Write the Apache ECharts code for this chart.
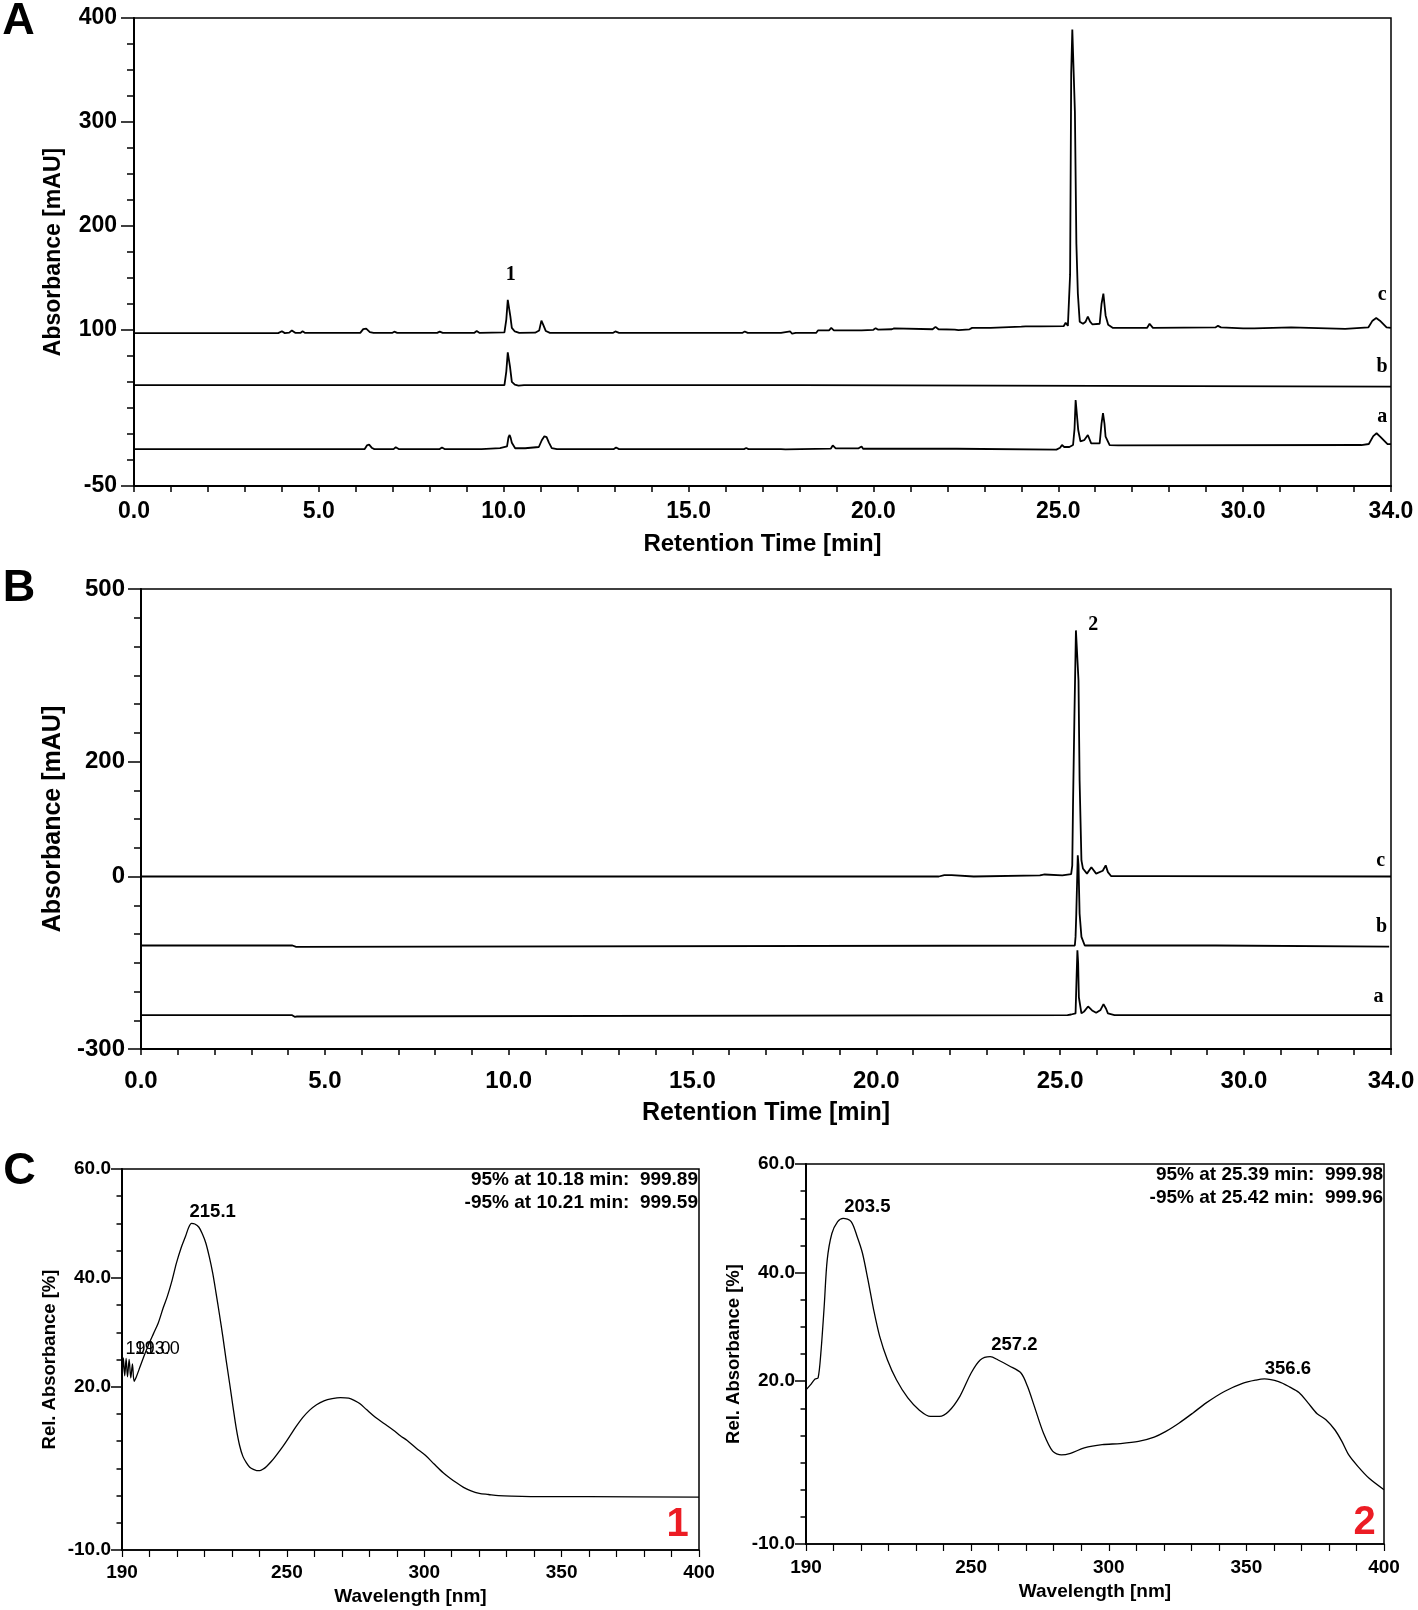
<!DOCTYPE html>
<html>
<head>
<meta charset="utf-8">
<script src="https://cdn.jsdelivr.net/npm/echarts@6/dist/echarts.min.js"></script>
<style>
html,body{margin:0;padding:0;background:#fff;}
#chart{width:1418px;height:1610px;}
</style>
</head>
<body>
<div id="chart"></div>
<script>
// ---------------- DATA ----------------
// Panel A chromatograms: [retention time (min), absorbance (mAU)]
const traceA_c = [[0,97],[3.9,97],[4.0,98.8],[4.08,97],[4.2,97.5],[4.27,99.6],[4.36,97.3],[4.5,97.2],[4.56,98.7],[4.63,97.2],[6.12,97.2],[6.2,100.8],[6.28,101.3],[6.38,98],[6.48,97.2],[6.98,97.2],[7.04,98.4],[7.12,97.2],[8.2,97.2],[8.27,98.4],[8.35,97.2],[9.2,97.2],[9.27,99],[9.35,97.2],[10.02,97.8],[10.07,110],[10.11,129],[10.15,130],[10.18,113],[10.22,102],[10.3,98.6],[10.42,97.2],[10.85,97.4],[10.96,99.6],[11.02,109],[11.07,105],[11.14,99],[11.25,97.2],[12.95,97.2],[13.02,98.6],[13.12,97.2],[14.82,97.2],[14.87,98.4],[14.93,97.2],[15.12,97.2],[15.17,98.4],[15.23,97.2],[16.45,97.2],[16.52,98.6],[16.6,97.2],[17.5,97.2],[17.55,98.6],[17.75,98.6],[17.8,96.4],[17.9,97.2],[18.45,97.2],[18.5,99.6],[18.8,99.6],[18.86,102],[18.93,99.6],[19.55,99.6],[19.6,101.4],[19.68,99.6],[20.0,100.2],[20.06,101.8],[20.12,100.4],[20.5,100.7],[20.56,101.6],[21.6,100.7],[21.68,103],[21.76,100.7],[22.2,100.4],[22.3,99.8],[22.6,100.7],[22.67,102],[23.17,102],[23.22,103.2],[24.0,103.2],[24.05,104.8],[24.12,103.5],[24.4,103.5],[24.45,105],[24.52,103.5],[25.15,103.8],[25.2,107],[25.26,104],[25.3,104],[25.32,153],[25.35,347],[25.38,389],[25.43,389],[25.45,310],[25.49,183],[25.53,135],[25.58,108],[25.67,106],[25.74,108],[25.8,113],[25.86,108],[25.92,105.5],[26.12,106],[26.17,125],[26.22,135],[26.28,114],[26.35,105],[26.48,102],[27.4,102],[27.47,106],[27.56,102],[29.25,102.5],[29.32,104],[29.4,102.5],[30.0,101.6],[30.3,101.6],[30.35,102.5],[31.3,102.5],[31.35,101],[32.76,101],[32.8,102.6],[33.39,102.6],[33.5,109],[33.6,111.5],[33.7,109],[33.88,102.6],[34,102]];
const traceA_b = [[0,47],[10.02,47],[10.07,60],[10.11,78.5],[10.14,77],[10.17,64.7],[10.22,50.2],[10.3,47.5],[10.4,46.5],[10.55,47],[18.03,47],[18.05,45.5],[34,45.5]];
const traceA_a = [[0,-14.5],[6.24,-14.5],[6.3,-11],[6.36,-10.2],[6.44,-13.5],[6.5,-14.5],[7.02,-14.5],[7.08,-12.8],[7.16,-14.5],[8.27,-14.5],[8.33,-13],[8.4,-14.5],[9.28,-14.5],[9.33,-13],[9.4,-14.5],[9.9,-13.5],[10.09,-12],[10.13,-3],[10.16,-1],[10.19,-4],[10.22,-8.4],[10.31,-13.7],[10.58,-13.7],[10.95,-12.5],[11.03,-6],[11.1,-2.2],[11.16,-3],[11.22,-8],[11.3,-13.5],[11.44,-14.5],[12.98,-14.5],[13.04,-13],[13.12,-14.5],[14.85,-14.5],[14.9,-13.6],[14.96,-14.5],[15.1,-14.5],[15.15,-13.6],[15.2,-14.5],[16.5,-14.5],[16.56,-13.5],[16.62,-14.5],[17.5,-14.5],[17.55,-13.8],[17.62,-14.8],[18.85,-14],[18.9,-11],[18.98,-13.8],[19.6,-13.8],[19.64,-12],[19.68,-12],[19.72,-14.2],[22.25,-14.2],[22.28,-15],[24.95,-15],[25.0,-14],[25.05,-13.2],[25.1,-10.6],[25.16,-12.5],[25.3,-12.5],[25.4,-10.6],[25.44,5],[25.47,32.7],[25.5,32.7],[25.54,3.8],[25.6,-7],[25.7,-6],[25.8,-1],[25.89,-9],[26.12,-9],[26.17,10],[26.21,20],[26.25,10],[26.28,-2.6],[26.39,-10.6],[26.62,-11],[26.65,-10.6],[33.2,-10.6],[33.4,-9.6],[33.52,-2],[33.61,0.7],[33.72,-3],[33.9,-9.6],[34,-9.8]];

// Panel B chromatograms
const traceB_c = [[0,0],[3.98,0],[4.02,1.2],[4.06,0],[5.55,0],[5.6,1.5],[5.65,0],[21.7,0],[21.75,2.5],[21.85,2.5],[21.88,0.5],[21.93,2.5],[22.05,2.5],[22.1,0],[22.65,0],[22.68,1.9],[24.45,1.9],[24.5,3.5],[24.58,3.5],[24.62,1.9],[25.06,1.9],[25.08,4],[25.3,4],[25.33,19],[25.35,120],[25.39,283],[25.43,428],[25.47,428],[25.5,341],[25.53,167],[25.58,28],[25.62,14],[25.73,5],[25.85,16],[25.98,5],[26.16,10],[26.24,19.3],[26.3,7.6],[26.39,0.5],[27.35,0.5],[27.4,-1.5],[27.45,0.8],[27.65,0.8],[27.7,0],[34,0]];
const traceB_b = [[0,-120],[4.12,-120],[4.16,-122.5],[4.22,-122.5],[4.26,-120],[25.4,-120],[25.42,-105],[25.44,-64.7],[25.48,36.7],[25.5,20],[25.53,-64.7],[25.58,-105],[25.67,-120],[29.23,-120],[29.27,-122],[33.95,-122]];
const traceB_a = [[0,-241],[4.1,-241],[4.14,-239.5],[4.18,-244],[4.24,-243.5],[4.28,-241],[25.2,-241],[25.3,-240],[25.42,-238],[25.45,-170],[25.47,-128.5],[25.49,-150],[25.51,-210],[25.58,-238],[25.65,-235],[25.76,-226],[25.87,-233],[25.98,-237],[26.1,-232],[26.18,-222],[26.25,-230],[26.3,-238],[26.48,-241],[29.4,-241],[29.45,-238.5],[29.5,-241],[34,-241]];

// Panel C UV spectra: [wavelength (nm), relative absorbance (%)]
const spectrum1 = [[190,20.6],[190.5,25.3],[191.0,22.0],[191.5,25.2],[192.0,21.8],[192.6,25.0],[193.2,21.6],[193.8,24.2],[194.4,21.0],[195.2,21.8],[196.6,23.7],[198.3,26],[199.9,28],[201.5,29.8],[203.2,31.7],[205,34.5],[206.5,36.6],[208.2,39.5],[209.8,42.7],[211.5,45.5],[213.1,47.6],[214.3,49.3],[215.3,50],[216.5,49.9],[218,49.3],[219.3,48],[220.5,46.4],[221.8,43.8],[223,40.9],[224.2,37.3],[225.4,33.5],[226.7,29.2],[227.9,24.9],[229.2,20.5],[230.4,16.3],[231.6,12.3],[232.8,9.2],[234,7.2],[235.3,6.0],[236.5,5.2],[237.8,4.8],[239,4.6],[240.2,4.6],[241.5,4.9],[242.7,5.4],[244.4,6.3],[246,7.3],[248.5,9.0],[250.9,10.8],[253.4,12.7],[255.9,14.4],[258.3,15.7],[260.8,16.7],[263.5,17.4],[266.5,17.8],[269.5,18.0],[272.5,17.9],[274.5,17.5],[276.5,16.9],[279,15.8],[282.2,14.4],[285.5,13.2],[288.8,12],[291.3,11],[293.8,10.1],[297.1,8.7],[300.4,7.4],[303.6,5.8],[306.9,4.2],[309.4,3.2],[311.9,2.3],[314.3,1.5],[316.8,0.9],[320,0.4],[323.4,0.2],[327,0],[331.7,-0.1],[343.2,-0.2],[359.7,-0.2],[400,-0.3]];
const spectrum2 = [[190,18.4],[191.6,19.3],[193.3,20.4],[194.4,20.6],[195.4,25.2],[196.6,33.7],[197.7,42.3],[199.4,47.2],[201.5,49.4],[203.5,50],[206.4,49.4],[208.6,46.6],[210.5,43.6],[212.5,38.7],[214.6,33.1],[216.8,28.2],[219.6,23.9],[222.9,20.2],[227,16.9],[231.1,14.7],[235.2,13.5],[238.5,13.5],[241.8,14.4],[245.9,17.2],[250,21.5],[253.3,23.9],[256.9,24.5],[259.8,23.9],[263.9,22.8],[268.1,21.5],[270.5,19],[273,15.3],[276.3,10.4],[279.6,7.1],[282.8,6.4],[286.1,6.7],[291.1,7.7],[297.6,8.3],[304.2,8.5],[310.8,8.9],[316.5,9.7],[320.6,10.7],[325.6,12.3],[330.5,14.1],[335.4,16],[342,18.1],[348.6,19.6],[353.5,20.2],[356.6,20.4],[361.7,19.9],[365.8,18.9],[369.1,17.9],[372.4,16],[375.7,14],[378.9,12.9],[382.2,11],[384.7,8.9],[387.2,6.4],[390.5,4.3],[394.6,2.1],[400,0]];

// Tick labels
const timeLabels = [0, 5, 10, 15, 20, 25, 30, 34];
const yLabelsA = [400, 300, 200, 100, -50];
const yLabelsB = [500, 200, 0, -300];
const yLabelsC = [60, 40, 20, -10];
const xLabelsC = [190, 250, 300, 350, 400];

// Text annotations
const traceNames = ['c', 'b', 'a'];
const peakLabelA = {text: '1', at: [10.19, 153]};
const peakLabelB = {text: '2', at: [25.9, 437]};
const traceLabelPosA = [[33.76, 134], [33.76, 65], [33.76, 16.4]];
const traceLabelPosB = [[33.72, 27], [33.74, -87], [33.66, -210]];
const spec1Peaks = [{text: '215.1', at: [223, 52.2]}];
const spec2Peaks = [{text: '203.5', at: [212.3, 52.1]}, {text: '257.2', at: [265.7, 26.7]}, {text: '356.6', at: [365.1, 22.2]}];
const spec1Noise = [{text: '191.0', at: [191.3, 27.0]}, {text: '193.0', at: [194.6, 27.0]}];
const spec1Purity = ['95% at 10.18 min:  999.89', '-95% at 10.21 min:  999.59'];
const spec2Purity = ['95% at 25.39 min:  999.98', '-95% at 25.42 min:  999.96'];
const compoundIds = ['1', '2'];

// ---------------- STYLE ----------------
const SANS = "'Liberation Sans', Arial, Helvetica, sans-serif";
const SERIF = "'Liberation Serif', 'Times New Roman', serif";
const BLACK = '#000';

function timeAxis(gridIndex, fontSize, margin, nameGap) {
  return {
    gridIndex, type: 'value', min: 0, max: 34, interval: 1,
    name: 'Retention Time [min]', nameLocation: 'middle', nameGap,
    nameTextStyle: {fontFamily: SANS, fontWeight: 'bold', fontSize: fontSize + 1, color: BLACK},
    axisLine: {show: true, onZero: false, lineStyle: {color: BLACK, width: 2}},
    axisTick: {show: true, length: 6, lineStyle: {color: BLACK, width: 1.5}},
    axisLabel: {show: true, margin, fontFamily: SANS, fontWeight: 'bold', fontSize, color: BLACK,
      formatter: v => timeLabels.indexOf(Math.round(v * 1000) / 1000) >= 0 ? v.toFixed(1) : ''},
    splitLine: {show: false}
  };
}
function valueAxis(gridIndex, min, max, interval, labels, fmt, fontSize, margin, name, nameSize, nameGap, tickLen) {
  return {
    gridIndex, type: 'value', min, max, interval, position: 'left',
    name, nameLocation: 'middle', nameGap,
    nameTextStyle: {fontFamily: SANS, fontWeight: 'bold', fontSize: nameSize, color: BLACK},
    axisLine: {show: true, onZero: false, lineStyle: {color: BLACK, width: 2}},
    axisTick: {show: true, length: tickLen, lineStyle: {color: BLACK, width: 1.5}},
    axisLabel: {show: true, margin, fontFamily: SANS, fontWeight: 'bold', fontSize, color: BLACK,
      formatter: v => labels.indexOf(Math.round(v * 1000) / 1000) >= 0 ? fmt(v) : ''},
    splitLine: {show: false}
  };
}
function longTickAxis(gridIndex, min, max, interval, labels, len) {
  return {
    gridIndex, type: 'value', min, max, interval, position: 'left', offset: 0,
    axisLine: {show: false},
    axisTick: {show: true, length: len, customValues: labels, lineStyle: {color: BLACK, width: 1.5}},
    axisLabel: {show: false},
    splitLine: {show: false}
  };
}
function lineSeries(data, xi, yi, width, smooth) {
  return {
    type: 'line', data, xAxisIndex: xi, yAxisIndex: yi,
    showSymbol: false, symbol: 'none', smooth: smooth || false,
    lineStyle: {color: BLACK, width}, silent: true, animation: false, z: 3
  };
}

const gridBase = {show: true, borderColor: BLACK, borderWidth: 1.5, backgroundColor: 'transparent', containLabel: false, outerBoundsMode: 'none'};

const option = {
  animation: false,
  backgroundColor: '#fff',
  grid: [
    Object.assign({left: 134, top: 18, width: 1257, height: 468}, gridBase),
    Object.assign({left: 141, top: 589, width: 1250, height: 460}, gridBase),
    Object.assign({left: 122, top: 1169, width: 577, height: 381}, gridBase),
    Object.assign({left: 806, top: 1164, width: 578, height: 380}, gridBase)
  ],
  xAxis: [
    timeAxis(0, 23, 14, 46),
    timeAxis(1, 24, 20, 52),
    {
      gridIndex: 2, type: 'value', min: 190, max: 400, interval: 10,
      name: 'Wavelength [nm]', nameLocation: 'middle', nameGap: 37,
      nameTextStyle: {fontFamily: SANS, fontWeight: 'bold', fontSize: 19, color: BLACK},
      axisLine: {show: true, onZero: false, lineStyle: {color: BLACK, width: 1.5}},
      axisTick: {show: true, length: 7, lineStyle: {color: BLACK, width: 1.2}},
      axisLabel: {margin: 13, fontFamily: SANS, fontWeight: 'bold', fontSize: 19, color: BLACK,
        formatter: v => xLabelsC.indexOf(v) >= 0 ? String(v) : ''},
      splitLine: {show: false}
    },
    {
      gridIndex: 3, type: 'value', min: 190, max: 400, interval: 10,
      name: 'Wavelength [nm]', nameLocation: 'middle', nameGap: 38,
      nameTextStyle: {fontFamily: SANS, fontWeight: 'bold', fontSize: 19, color: BLACK},
      axisLine: {show: true, onZero: false, lineStyle: {color: BLACK, width: 1.5}},
      axisTick: {show: true, length: 7, lineStyle: {color: BLACK, width: 1.2}},
      axisLabel: {margin: 14, fontFamily: SANS, fontWeight: 'bold', fontSize: 19, color: BLACK,
        formatter: v => xLabelsC.indexOf(v) >= 0 ? String(v) : ''},
      splitLine: {show: false}
    }
  ],
  yAxis: [
    valueAxis(0, -50, 400, 25, yLabelsA, v => String(v), 23, 17, 'Absorbance [mAU]', 23, 69, 7),
    longTickAxis(0, -50, 400, 25, yLabelsA, 13),
    valueAxis(1, -300, 500, 50, yLabelsB, v => String(v), 24, 16, 'Absorbance [mAU]', 25, 75, 7),
    longTickAxis(1, -300, 500, 50, yLabelsB, 13),
    valueAxis(2, -10, 60, 5, yLabelsC, v => v.toFixed(1), 19, 11, 'Rel. Absorbance [%]', 18.5, 63, 5.5),
    longTickAxis(2, -10, 60, 5, yLabelsC, 11),
    valueAxis(3, -10, 60, 5, yLabelsC, v => v.toFixed(1), 19, 11, 'Rel. Absorbance [%]', 18.5, 63, 5.5),
    longTickAxis(3, -10, 60, 5, yLabelsC, 11)
  ],
  series: [
    lineSeries(traceA_c, 0, 0, 1.8),
    lineSeries(traceA_b, 0, 0, 1.8),
    lineSeries(traceA_a, 0, 0, 1.8),
    lineSeries(traceB_c, 1, 2, 1.8),
    lineSeries(traceB_b, 1, 2, 1.8),
    lineSeries(traceB_a, 1, 2, 1.8),
    lineSeries(spectrum1, 2, 4, 1.3, 0.3),
    lineSeries(spectrum2, 3, 6, 1.3, 0.3)
  ]
};

const chart = echarts.init(document.getElementById('chart'), null, {renderer: 'canvas'});
chart.setOption(option);

// ---------------- TEXT OVERLAYS ----------------
const pos = (xi, yi, pt) => chart.convertToPixel({xAxisIndex: xi, yAxisIndex: yi}, pt);
function txt(p, text, size, weight, family, fill, align, valign) {
  return {type: 'text', x: p[0], y: p[1], silent: true, z: 10,
    style: {text, fontSize: size, fontWeight: weight, fontFamily: family, fill: fill || BLACK,
      align: align || 'center', verticalAlign: valign || 'middle',
      textAlign: align || 'center', textVerticalAlign: valign || 'middle'}};
}
const g = [];
// panel letters
g.push(txt([18.5, 22], 'A', 45, 'bold', SANS));
g.push(txt([19, 589], 'B', 45, 'bold', SANS));
g.push(txt([19.5, 1172], 'C', 45, 'bold', SANS));
// chromatogram labels
g.push(txt(pos(0, 0, peakLabelA.at), peakLabelA.text, 20, 'bold', SERIF));
g.push(txt(pos(1, 2, peakLabelB.at), peakLabelB.text, 20, 'bold', SERIF));
traceLabelPosA.forEach((p, i) => g.push(txt(pos(0, 0, p), traceNames[i], 20, 'bold', SERIF)));
traceLabelPosB.forEach((p, i) => g.push(txt(pos(1, 2, p), traceNames[i], 20, 'bold', SERIF)));
// spectra peak labels
spec1Peaks.forEach(p => g.push(txt(pos(2, 4, p.at), p.text, 18.5, 'bold', SANS)));
spec2Peaks.forEach(p => g.push(txt(pos(3, 6, p.at), p.text, 18.5, 'bold', SANS)));
spec1Noise.forEach(p => g.push(txt(pos(2, 4, p.at), p.text, 18, 'normal', SANS, BLACK, 'left')));
// purity annotations at top-right corners
const tr1 = pos(2, 4, [400, 60]);
const tr2 = pos(3, 6, [400, 60]);
spec1Purity.forEach((s, i) => g.push(txt([tr1[0] - 1, tr1[1] + 11 + i * 22.7], s, 19, 'bold', SANS, BLACK, 'right')));
spec2Purity.forEach((s, i) => g.push(txt([tr2[0] - 1, tr2[1] + 11 + i * 22.5], s, 19, 'bold', SANS, BLACK, 'right')));
// red compound ids at bottom-right corners
const br1 = pos(2, 4, [400, -10]);
const br2 = pos(3, 6, [400, -10]);
g.push(txt([br1[0] - 21.5, br1[1] - 25], compoundIds[0], 40, 'bold', SANS, '#ec1c24'));
g.push(txt([br2[0] - 19.5, br2[1] - 21], compoundIds[1], 40, 'bold', SANS, '#ec1c24'));

chart.setOption({graphic: g});
</script>
</body>
</html>
